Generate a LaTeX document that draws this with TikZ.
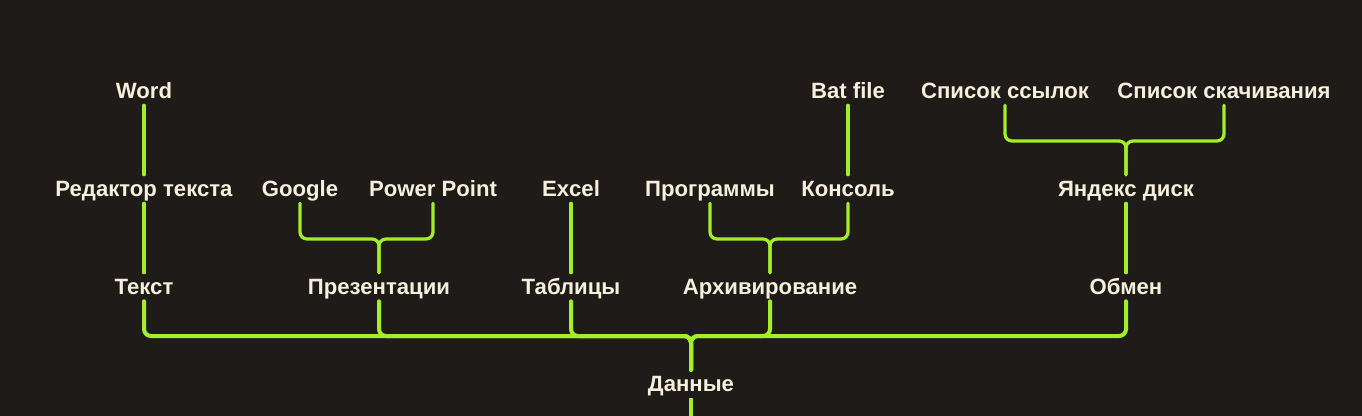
\documentclass[tikz,border=0pt]{standalone}
\usepackage{fontspec}
\setmainfont{Liberation Sans}
\definecolor{bg}{HTML}{1F1B19}
\definecolor{lime}{HTML}{A3EE2B}
\definecolor{ink}{HTML}{F4F0DC}
\begin{document}
\begin{tikzpicture}[x=0.75pt,y=-0.75pt,
  lbl/.style={text=ink,font=\bfseries\fontsize{16.6pt}{19pt}\selectfont,
    text height=11.4pt,text depth=0pt,inner xsep=2pt,inner ysep=4.8pt},
  conn/.style={draw=lime,line width=2.4pt,rounded corners=5.2pt,line cap=round},
  main/.style={draw=lime,line width=3pt,rounded corners=5.2pt,line cap=round}]
\fill[bg] (0,0) rectangle (1362,416);
\useasboundingbox (0,0) rectangle (1362,416);
% row 1
\node[lbl] (word) at (144,91) {Word};
\node[lbl] (bat) at (848,91) {Bat file};
\node[lbl] (links) at (1005,91) {Список ссылок};
\node[lbl] (dl) at (1224,91) {Список скачивания};
% row 2
\node[lbl] (ed) at (144,189) {Редактор текста};
\node[lbl] (google) at (300,189) {Google};
\node[lbl] (pp) at (433,189) {Power Point};
\node[lbl] (excel) at (571,189) {Excel};
\node[lbl] (prog) at (710,189) {Программы};
\node[lbl] (cons) at (848,189) {Консоль};
\node[lbl] (yd) at (1126,189) {Яндекс диск};
% row 3
\node[lbl] (txt) at (144,287) {Текст};
\node[lbl] (pres) at (379,287) {Презентации};
\node[lbl] (tab) at (571,287) {Таблицы};
\node[lbl] (arch) at (770,287) {Архивирование};
\node[lbl] (obm) at (1126,287) {Обмен};
% row 4
\node[lbl] (dan) at (691,384) {Данные};
% junction coordinates
\coordinate (j1) at (1126,141);
\coordinate (j2) at (379,239);
\coordinate (j3) at (770,239);
\coordinate (j4) at (691,336);
\coordinate (bot) at (691,420);
% connectors
\draw[conn] (word.south) -- (ed.north);
\draw[conn] (bat.south) -- (cons.north);
\draw[conn] (links.south) |- (j1) -- (yd.north);
\draw[conn] (dl.south) |- (j1) -- (yd.north);
\draw[conn] (google.south) |- (j2) -- (pres.north);
\draw[conn] (pp.south) |- (j2) -- (pres.north);
\draw[conn] (prog.south) |- (j3) -- (arch.north);
\draw[conn] (cons.south) |- (j3) -- (arch.north);
\draw[conn] (ed.south) -- (txt.north);
\draw[conn] (excel.south) -- (tab.north);
\draw[conn] (yd.south) -- (obm.north);
\draw[main] (txt.south) |- (j4) -- (dan.north);
\draw[main] (pres.south) |- (j4) -- (dan.north);
\draw[main] (tab.south) |- (j4) -- (dan.north);
\draw[main] (arch.south) |- (j4) -- (dan.north);
\draw[main] (obm.south) |- (j4) -- (dan.north);
\draw[main,line cap=butt] (dan.south) -- (bot);
\end{tikzpicture}
\end{document}
